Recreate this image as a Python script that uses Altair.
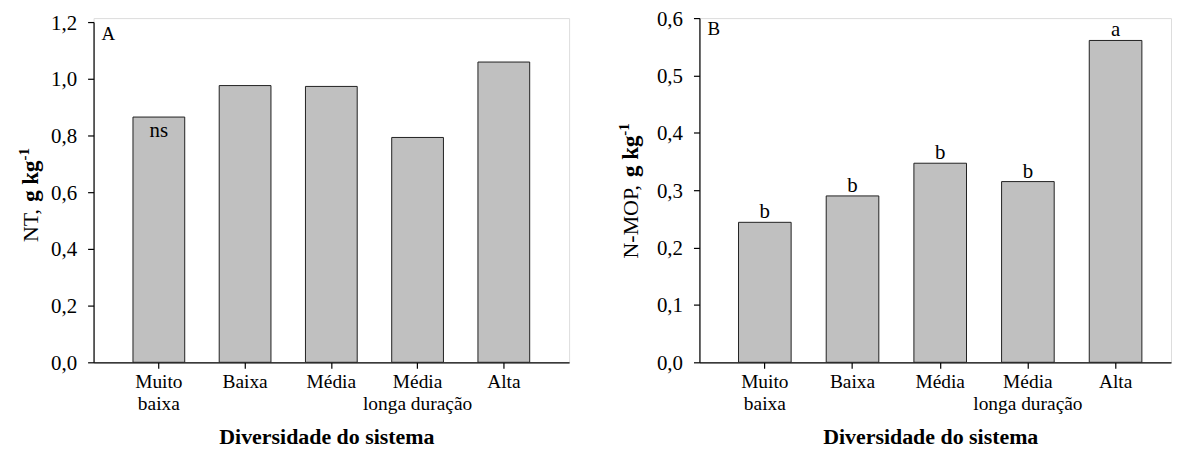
import altair as alt
import pandas as pd

# ---- data ----
categories = ["Muito\nbaixa", "Baixa", "Média", "Média\nlonga duração", "Alta"]
nt_values = [0.865, 0.976, 0.973, 0.793, 1.059]
nmop_values = [0.244, 0.290, 0.347, 0.315, 0.561]
nt_letters = ["ns", "", "", "", ""]
nmop_letters = ["b", "b", "b", "b", "a"]
nt_ticks = [0.0, 0.2, 0.4, 0.6, 0.8, 1.0, 1.2]
nmop_ticks = [0.0, 0.1, 0.2, 0.3, 0.4, 0.5, 0.6]
x_title = "Diversidade do sistema"

FONT = "Liberation Serif"
H = 346

df_nt = pd.DataFrame({"cat": categories, "v": nt_values, "lab": nt_letters})
df_mop = pd.DataFrame({"cat": categories, "v": nmop_values, "lab": nmop_letters})

label_expr = "replace(format(datum.value, '.1f'), '.', ',')"


def y_axis(ticks, loff):
    return alt.Axis(values=ticks, labelExpr=label_expr, title=None, tickSize=6,
                    labelPadding=11, labelFont=FONT, labelFontSize=21, labelColor="black",
                    labelOffset=loff,
                    domainColor="black", tickColor="black", grid=False, domainWidth=1.2,
                    tickWidth=1.2)


def x_axis(title_x):
    return alt.Axis(title=x_title, labelExpr="split(datum.label, '\\n')", labelAngle=0,
                    labelFont=FONT, labelFontSize=19.5, labelLineHeight=22, labelColor="black",
                    labelPadding=4, tickSize=6, tickColor="black", domainColor="black",
                    domainWidth=1.2, tickWidth=1.2,
                    titleFont=FONT, titleFontSize=22, titleFontWeight="bold", titleColor="black",
                    titlePadding=14, titleX=title_x)


def panel(df, ticks, domain, yrange, width, pin, pout, align, panel_label, plab_y,
          letter_dy, title_parts, title_x, loff):
    xs = alt.X("cat:N", sort=categories,
               scale=alt.Scale(paddingInner=pin, paddingOuter=pout, align=align),
               axis=x_axis(width / 2 - 5))
    ys = alt.Y("v:Q", scale=alt.Scale(domain=domain, range=yrange, nice=False, zero=True),
               axis=y_axis(ticks, loff))
    base = alt.Chart(df)
    bars = base.mark_bar(fill="#c0c0c0", stroke="#202020", strokeWidth=1).encode(x=xs, y=ys)
    letters = base.mark_text(font=FONT, fontSize=21, baseline="alphabetic", dy=letter_dy,
                             color="black").encode(x=xs, y=ys, text="lab:N")
    plab = alt.Chart(pd.DataFrame({"t": [panel_label]})).mark_text(
        font=FONT, fontSize=19, align="left", baseline="alphabetic", color="black"
    ).encode(x=alt.value(8), y=alt.value(plab_y), text="t:N")
    layers = [bars, letters, plab]
    for txt, size, weight, ty, dx in title_parts:
        layers.append(
            alt.Chart(pd.DataFrame({"t": [txt]})).mark_text(
                font=FONT, fontSize=size, fontWeight=weight, angle=270, align="left",
                baseline="alphabetic", color="black"
            ).encode(x=alt.value(title_x + dx), y=alt.value(ty), text="t:N")
        )
    return alt.layer(*layers).properties(width=width, height=H)


# y-title pieces: (text, size, weight, y position along axis, x shift)
left_title = [("NT,", 22, "normal", 225, 0), ("g kg", 23, "bold", 184.7, 0),
              ("-1", 15, "bold", 143.2, -9)]
right_title = [("N-MOP,", 22, "normal", 241.6, 0), ("g kg", 23, "bold", 159.7, 0),
               ("-1", 15, "bold", 118.2, -9)]

left = panel(df_nt, nt_ticks, [0, 1.2], [H, 4], 478, 0.4, 0.457, 0.5, "A", 21.6, 20,
             left_title, -56, 1)
right = panel(df_mop, nmop_ticks, [0, 0.6], [H, 0], 474, 0.4, 0.389, 0.573, "B", 16.6, -4,
              right_title, -62, 1)

chart = alt.hconcat(left, right, spacing=46).properties(
    padding={"left": 8, "top": -2, "right": 0, "bottom": 0}
).configure_view(stroke=None).configure_axis(
    labelFont=FONT, titleFont=FONT
).configure_text(font=FONT).configure(font=FONT)

chart.save("out.html", embed_options={"renderer": "svg", "actions": False})
